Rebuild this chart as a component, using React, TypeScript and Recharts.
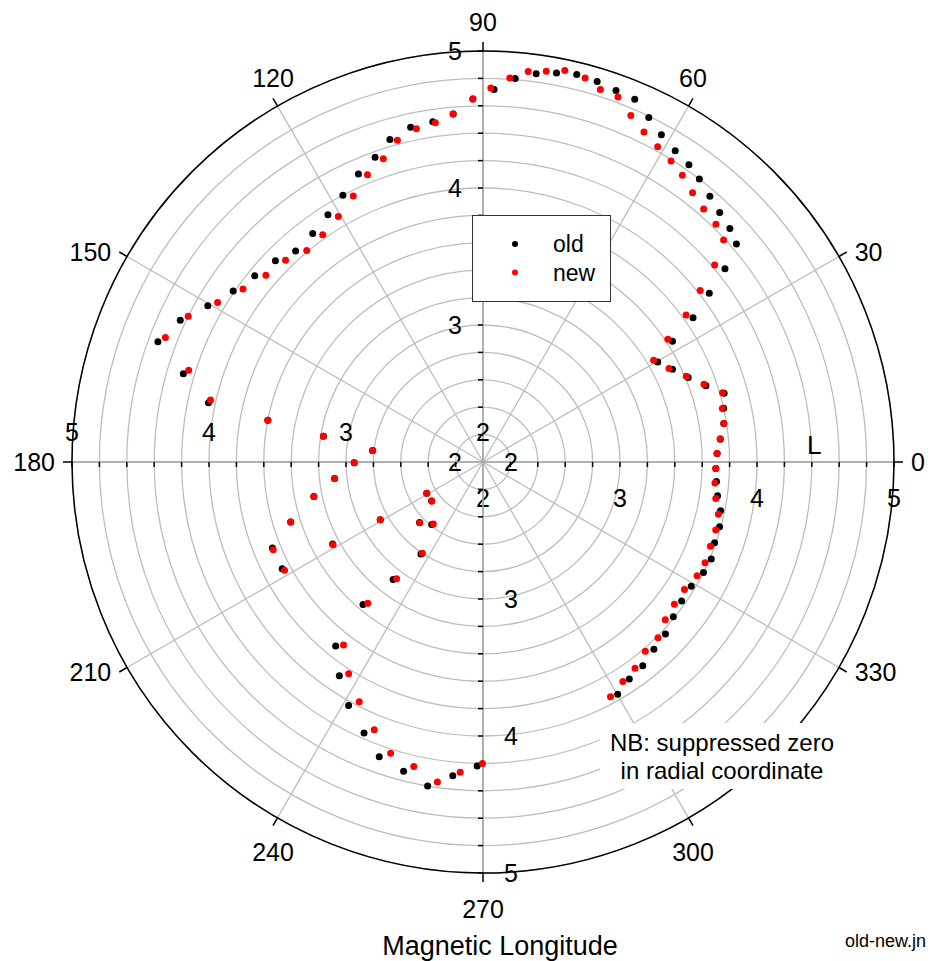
import { RadarChart, PolarGrid, PolarAngleAxis, PolarRadiusAxis, Radar, Legend } from "recharts"

// magnetic longitude (deg) and L for each series
const oldAngle = [
  2.1, 5.5, 9.1, 12.6, 15.9, 18.9, 22.4, 26.1, 29.8, 32.5, 34.5, 36.7, 38.6, 40.7, 43.4, 46.5, 49.5, 52.6,
  55.3, 58.3, 61.4, 64.3, 67.3, 70.3, 73.3, 76.4, 79.3, 82.2, 85.2, 88.3, 91.6, 94.9, 98.4, 102.2, 106.1,
  109.5, 113.4, 117.7, 122.1, 126.7, 131.6, 135.9, 140.8, 145.6, 150.4, 154.9, 159.7, 163.6, 167.8, 169.0,
  170.8, 174.0, 180.3, 186.3, 191.5, 197.3, 202.2, 208.0, 208.6, 209.3, 209.1, 217.2, 223.6, 230.6, 236.0,
  232.6, 229.9, 231.3, 236.1, 241.1, 246.3, 250.6, 255.6, 260.3, 264.5, 268.9, 300.1, 304.0, 308.1, 312.4,
  316.7, 320.9, 325.0, 329.2, 333.4, 337.0, 340.8, 344.7, 348.4, 351.8, 355.2, 358.4,
]
const oldL = [
  3.71, 3.74, 3.78, 3.8, 3.83, 3.72, 3.62, 3.54, 3.47, 3.64, 3.86, 4.06, 4.26, 4.44, 4.48, 4.51, 4.55, 4.6,
  4.64, 4.67, 4.72, 4.79, 4.87, 4.88, 4.9, 4.91, 4.89, 4.86, 4.81, 4.72, 4.65, 4.55, 4.51, 4.5, 4.45,
  4.36, 4.29, 4.2, 4.13, 4.08, 4.06, 4.11, 4.15, 4.21, 4.31, 4.44, 4.53, 4.28, 4.05, 3.6,
  3.18, 2.81, 2.94, 3.09, 3.26, 3.47, 3.66, 3.66, 3.25, 2.86, 2.47, 2.47, 2.64, 2.59, 2.81,
  3.08, 3.36, 3.72, 3.88, 4.03, 4.16, 4.28, 4.33, 4.4, 4.3, 4.22, 3.96, 3.91, 3.89, 3.85,
  3.83, 3.79, 3.77, 3.77, 3.8, 3.81, 3.79, 3.79, 3.77, 3.73, 3.71, 3.7,
]
const newAngle = [
  2.1, 5.6, 9.1, 12.6, 16.1, 19.4, 22.9, 26.7, 30.8, 33.6, 35.9, 38.3, 40.4, 42.7, 45.6, 48.9, 52.1, 55.2,
  58.0, 61.0, 64.0, 66.9, 69.7, 72.5, 75.1, 78.2, 80.8, 83.4, 86.0, 88.8, 91.6, 94.9, 98.0, 101.3, 104.9,
  108.2, 111.9, 116.0, 120.5, 125.2, 129.8, 134.4, 139.3, 144.2, 149.0, 153.7, 158.6, 162.7, 167.2, 169.0,
  170.8, 174.0, 180.3, 186.3, 191.5, 197.3, 202.7, 208.6, 208.9, 209.3, 209.1, 217.2, 223.9, 231.3, 236.4,
  233.5, 230.8, 232.7, 237.6, 242.7, 247.9, 252.4, 257.2, 261.9, 265.8, 269.9, 298.5, 302.5, 306.4, 310.6,
  314.9, 319.1, 323.4, 327.7, 332.0, 335.6, 339.7, 343.7, 347.5, 351.1, 354.8, 358.4,
]
const newL = [
  3.71, 3.74, 3.78, 3.79, 3.82, 3.71, 3.61, 3.52, 3.45, 3.62, 3.83, 4.02, 4.22, 4.39, 4.43, 4.45, 4.49, 4.55,
  4.59, 4.63, 4.68, 4.75, 4.84, 4.85, 4.9, 4.92, 4.89, 4.87, 4.81, 4.73, 4.65, 4.55, 4.5, 4.48, 4.43,
  4.33, 4.26, 4.16, 4.08, 4.03, 4.01, 4.06, 4.09, 4.16, 4.26, 4.4, 4.49, 4.25, 4.04, 3.6,
  3.18, 2.81, 2.94, 3.09, 3.26, 3.47, 3.66, 3.65, 3.25, 2.86, 2.47, 2.47, 2.64, 2.58, 2.8,
  3.06, 3.33, 3.68, 3.83, 3.97, 4.11, 4.23, 4.28, 4.36, 4.27, 4.2, 3.95, 3.9, 3.87, 3.82,
  3.81, 3.76, 3.74, 3.74, 3.77, 3.78, 3.77, 3.77, 3.76, 3.72, 3.7, 3.7,
]

const angleTicks = [0, 30, 60, 90, 120, 150, 180, 210, 240, 270, 300, 330]
const radiusTicks = [2, 2.2, 2.4, 2.6, 2.8, 3, 3.2, 3.4, 3.6, 3.8, 4, 4.2, 4.4, 4.6, 4.8, 5]

const series = [
  { key: "old", color: "#000000" },
  { key: "new", color: "#ff0000" },
]

const chartData = [
  ...oldAngle.map((a, i) => ({ angle: a, old: oldL[i] })),
  ...newAngle.map((a, i) => ({ angle: a, new: newL[i] })),
]

const FONT = "'Liberation Sans', Arial, Helvetica, sans-serif"

const makeDot = (key: string, color: string) => (props: any) => {
  const { cx, cy, index } = props
  const p = props.payload ?? {}
  const row = p.payload ?? p
  if (row[key] == null || !Number.isFinite(cx) || !Number.isFinite(cy)) return <g key={`d-${index}`} />
  return <circle key={`d-${index}`} cx={cx} cy={cy} r={3.5} fill={color} stroke="none" />
}

// angle labels: beside the tick near the horizontal, above/below it near the vertical
const AngleTick = (props: any) => {
  const { x, y, payload } = props
  const a = (payload.coordinate * Math.PI) / 180
  const c = Math.cos(a)
  const s = Math.sin(a)
  if (Math.abs(c) > 0.7) {
    return (
      <text x={x + (c > 0 ? 8 : -8)} y={y} textAnchor={c > 0 ? "start" : "end"} dy="0.35em" fontSize={25} fill="#000">
        {payload.value}
      </text>
    )
  }
  return (
    <text x={x} y={s > 0 ? y - 20 : y + 27} textAnchor="middle" dy="0.35em" fontSize={25} fill="#000">
      {payload.value}
    </text>
  )
}

// tick mark direction (tx, ty) and label offset (lx, ly) per radial axis
const makeRadiusTick = (tx: number, ty: number, lx: number, ly: number) => (props: any) => {
  const { x, y, payload } = props
  const v = payload.value
  const major = Math.abs(v - Math.round(v)) < 1e-6
  return (
    <g>
      {v > 2.01 && <line x1={x} y1={y} x2={x + tx} y2={y + ty} stroke="#000" strokeWidth={1.5} />}
      {major && (
        <text x={x + lx} y={y + ly} textAnchor="middle" dy="0.35em" fontSize={25} fill="#000">
          {Math.round(v)}
        </text>
      )}
    </g>
  )
}

const radialAxes = [
  { id: 0, angle: 0, tick: makeRadiusTick(0, 5, 0, 36) },
  { id: 1, angle: 90, tick: makeRadiusTick(-5, 0, -28, 0) },
  { id: 2, angle: 180, tick: makeRadiusTick(0, 5, 0, -30) },
  { id: 3, angle: 270, tick: makeRadiusTick(-5, 0, 28, 0) },
]

const LegendBox = () => (
  <svg width={139} height={87} style={{ display: "block" }}>
    <rect x={0.5} y={0.5} width={138} height={86} fill="#fff" stroke="#333" strokeWidth={1} />
    {series.map((s, i) => (
      <g key={s.key}>
        <circle cx={43} cy={29 + i * 28.5} r={3} fill={s.color} />
        <text x={81} y={29 + i * 28.5} dy="0.35em" fontSize={23} fill="#000" fontFamily={FONT}>
          {s.key}
        </text>
      </g>
    ))}
  </svg>
)

export default function App() {
  return (
    <div style={{ position: "absolute", left: 0, top: 0, width: 942, height: 961, background: "#fff", fontFamily: FONT }}>
      <RadarChart
        width={942}
        height={961}
        data={chartData}
        cx={483}
        cy={462}
        innerRadius={0}
        outerRadius={411}
        startAngle={0}
        endAngle={360}
        margin={{ top: 0, right: 0, bottom: 0, left: 0 }}
      >
        <PolarGrid gridType="circle" stroke="#bdbdbd" strokeWidth={1.3} />
        {radialAxes.map((ax) => (
          <PolarRadiusAxis
            key={ax.id}
            radiusAxisId={ax.id}
            angle={ax.angle}
            type="number"
            domain={[2, 5]}
            allowDataOverflow
            ticks={radiusTicks}
            tickCount={16}
            stroke="#a6a6a6"
            axisLine={{ stroke: "#a6a6a6", strokeWidth: 1.6 }}
            tick={ax.tick}
          />
        ))}
        <PolarAngleAxis
          dataKey="angle"
          type="number"
          domain={[0, 360]}
          ticks={angleTicks}
          axisLineType="circle"
          axisLine={{ stroke: "#000", strokeWidth: 1.5 }}
          tickLine={{ stroke: "#000", strokeWidth: 1.5 }}
          tickSize={9}
          tick={AngleTick}
        />
        {series.map((s) => (
          <Radar
            key={s.key}
            name={s.key}
            dataKey={s.key}
            radiusAxisId={0}
            stroke="none"
            fill="none"
            dot={makeDot(s.key, s.color)}
            isAnimationActive={false}
          />
        ))}
        <Legend
          layout="vertical"
          align="left"
          verticalAlign="top"
          content={() => <LegendBox />}
          wrapperStyle={{ left: 472, top: 215, width: 139, height: 87 }}
        />
      </RadarChart>
      <svg
        width={942}
        height={961}
        style={{ position: "absolute", left: 0, top: 0, pointerEvents: "none" }}
        fontFamily={FONT}
      >
        <rect x={600} y={723} width={245} height={66} fill="#fff" />
        <text x={722} y={751} textAnchor="middle" fontSize={24} fill="#000">
          NB: suppressed zero
        </text>
        <text x={722} y={779} textAnchor="middle" fontSize={24} fill="#000">
          in radial coordinate
        </text>
        <text x={807} y={454} fontSize={26} fill="#000">
          L
        </text>
        <text x={500} y={955} textAnchor="middle" fontSize={27} fill="#000">
          Magnetic Longitude
        </text>
        <text x={845} y={947} fontSize={18} fill="#000">
          old-new.jn
        </text>
      </svg>
    </div>
  )
}
